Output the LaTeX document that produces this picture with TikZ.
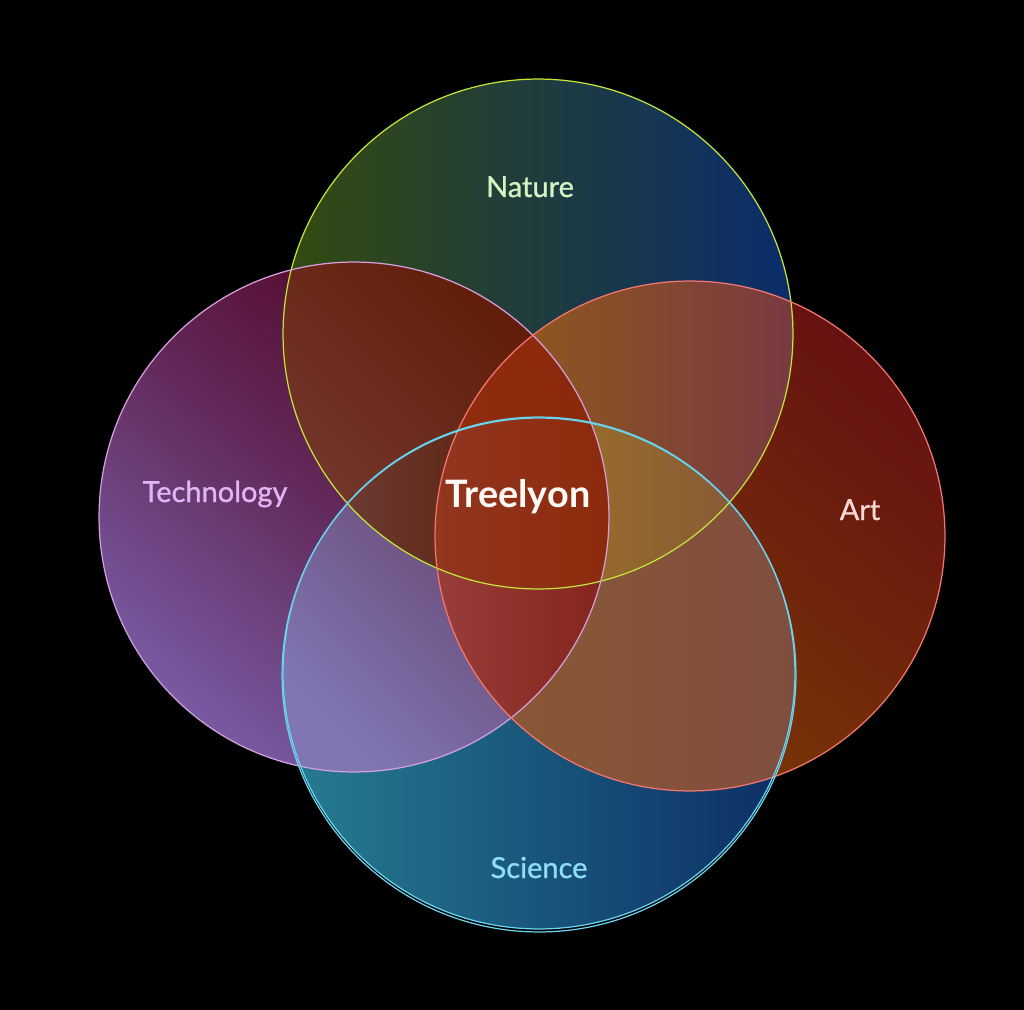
\documentclass[tikz,border=0pt]{standalone}
\usepackage{fontspec}
\setmainfont{Lato}
\newfontfamily\setfont{Lato}[FakeBold=0.9]
\pgfdeclarelayer{backlayer}
\pgfdeclarelayer{regionlayer}
\pgfdeclarelayer{outlinelayer}
\pgfsetlayers{backlayer,regionlayer,outlinelayer,main}
% single sets
\definecolor{natgreen}{RGB}{52,75,15}
\definecolor{natblue}{RGB}{10,45,108}
\definecolor{tecred}{RGB}{80,0,28}
\definecolor{tecviolet}{RGB}{120,90,162}
\definecolor{artred}{RGB}{102,18,17}
\definecolor{artorange}{RGB}{126,62,4}
\definecolor{scIteal}{RGB}{38,125,145}
\definecolor{scInavy}{RGB}{12,45,100}
% outlines and texts
\definecolor{natline}{RGB}{196,228,58}
\definecolor{tecline}{RGB}{212,160,222}
\definecolor{artline}{RGB}{246,118,112}
\definecolor{sciline}{RGB}{104,212,240}
\definecolor{nattext}{RGB}{214,244,194}
\definecolor{tectext}{RGB}{226,182,246}
\definecolor{arttext}{RGB}{250,216,214}
\definecolor{scitext}{RGB}{142,222,246}
\definecolor{coretext}{RGB}{255,250,246}
\tikzstyle{ring}=[fill=none, line width=0.7pt]
\tikzstyle{set text}=[anchor=base, font=\setfont\fontsize{16.5}{20}\selectfont]
\tikzstyle{core text}=[anchor=base, font=\bfseries\fontsize{21.5}{26}\selectfont, text=coretext]

\begin{document}
\begin{tikzpicture}[x=0.02cm, y=-0.02cm]
	\useasboundingbox (0,0) rectangle (1024,1010);
	\begin{pgfonlayer}{backlayer}
		\fill [black] (0,0) rectangle (1024,1010);
	\end{pgfonlayer}
	\coordinate (nat) at (538,334);
	\coordinate (tec) at (354,517);
	\coordinate (art) at (690,536);
	\coordinate (sci) at (539,673);
	\coordinate (sci2) at (539,675);
	\begin{pgfonlayer}{regionlayer}
		% one set
		\shade [left color=natgreen, right color=natblue] (nat) circle [radius=5.1cm];
		\shade [top color=tecred, bottom color=tecviolet, middle color={rgb,255:red,98;green,40;blue,88}, shading angle=-40] (tec) circle [radius=5.1cm];
		\shade [top color=artred, bottom color=artorange, shading angle=-40] (art) circle [radius=5.1cm];
		\shade [left color=scIteal, right color=scInavy] (sci) circle [radius=5.12cm];
		% two sets
		\begin{scope}
			\clip (nat) circle [radius=5.1cm];
			\clip (tec) circle [radius=5.1cm];
			\shade [top color={rgb,255:red,94;green,25;blue,3}, bottom color={rgb,255:red,118;green,58;blue,48}, shading angle=-45] (283,262) rectangle (609,589);
		\end{scope}
		\begin{scope}
			\clip (nat) circle [radius=5.1cm];
			\clip (art) circle [radius=5.1cm];
			\shade [left color={rgb,255:red,150;green,96;blue,20}, right color={rgb,255:red,120;green,58;blue,66}] (434,281) rectangle (793,589);
		\end{scope}
		\begin{scope}
			\clip (tec) circle [radius=5.1cm];
			\clip (sci) circle [radius=5.12cm];
			\shade [top color={rgb,255:red,96;green,55;blue,92}, bottom color={rgb,255:red,128;green,118;blue,178}, shading angle=-45] (283,417) rectangle (609,772);
		\end{scope}
		\begin{scope}
			\clip (art) circle [radius=5.1cm];
			\clip (sci) circle [radius=5.12cm];
			\shade [left color={rgb,255:red,140;green,90;blue,50}, right color={rgb,255:red,128;green,78;blue,62}] (434,417) rectangle (795,792);
		\end{scope}
		% three sets
		\begin{scope}
			\clip (nat) circle [radius=5.1cm];
			\clip (tec) circle [radius=5.1cm];
			\clip (art) circle [radius=5.1cm];
			\shade [left color={rgb,255:red,145;green,45;blue,14}, right color={rgb,255:red,138;green,40;blue,12}] (434,281) rectangle (609,589);
		\end{scope}
		\begin{scope}
			\clip (nat) circle [radius=5.1cm];
			\clip (tec) circle [radius=5.1cm];
			\clip (sci) circle [radius=5.12cm];
			\shade [left color={rgb,255:red,114;green,68;blue,66}, right color={rgb,255:red,96;green,40;blue,22}] (283,417) rectangle (470,589);
		\end{scope}
		\begin{scope}
			\clip (nat) circle [radius=5.1cm];
			\clip (art) circle [radius=5.1cm];
			\clip (sci) circle [radius=5.12cm];
			\shade [left color={rgb,255:red,152;green,108;blue,42}, right color={rgb,255:red,130;green,84;blue,62}] (580,417) rectangle (793,589);
		\end{scope}
		\begin{scope}
			\clip (tec) circle [radius=5.1cm];
			\clip (art) circle [radius=5.1cm];
			\clip (sci) circle [radius=5.12cm];
			\shade [left color={rgb,255:red,152;green,62;blue,58}, right color={rgb,255:red,132;green,36;blue,28}] (434,560) rectangle (609,772);
		\end{scope}
		% four sets
		\begin{scope}
			\clip (nat) circle [radius=5.1cm];
			\clip (tec) circle [radius=5.1cm];
			\clip (art) circle [radius=5.1cm];
			\clip (sci) circle [radius=5.12cm];
			\shade [left color={rgb,255:red,146;green,54;blue,32}, right color={rgb,255:red,140;green,42;blue,12}] (434,417) rectangle (609,589);
		\end{scope}
	\end{pgfonlayer}
	\begin{pgfonlayer}{outlinelayer}
		\draw [ring, natline] (nat) circle [radius=5.1cm];
		\draw [ring, tecline] (tec) circle [radius=5.1cm];
		\draw [ring, artline] (art) circle [radius=5.1cm];
		\draw [ring, sciline] (sci) circle [radius=5.12cm];
		\draw [ring, sciline] (sci2) circle [radius=5.14cm];
	\end{pgfonlayer}
	\node [set text, text=nattext] (naturename) at (530,197) {Nature};
	\node [set text, text=tectext] (techname) at (215,502) {Technology};
	\node [set text, text=arttext] (artname) at (860,520) {Art};
	\node [set text, text=scitext] (sciname) at (539,878) {Science};
	\node [core text] (corename) at (518,507) {Treelyon};
\end{tikzpicture}
\end{document}
